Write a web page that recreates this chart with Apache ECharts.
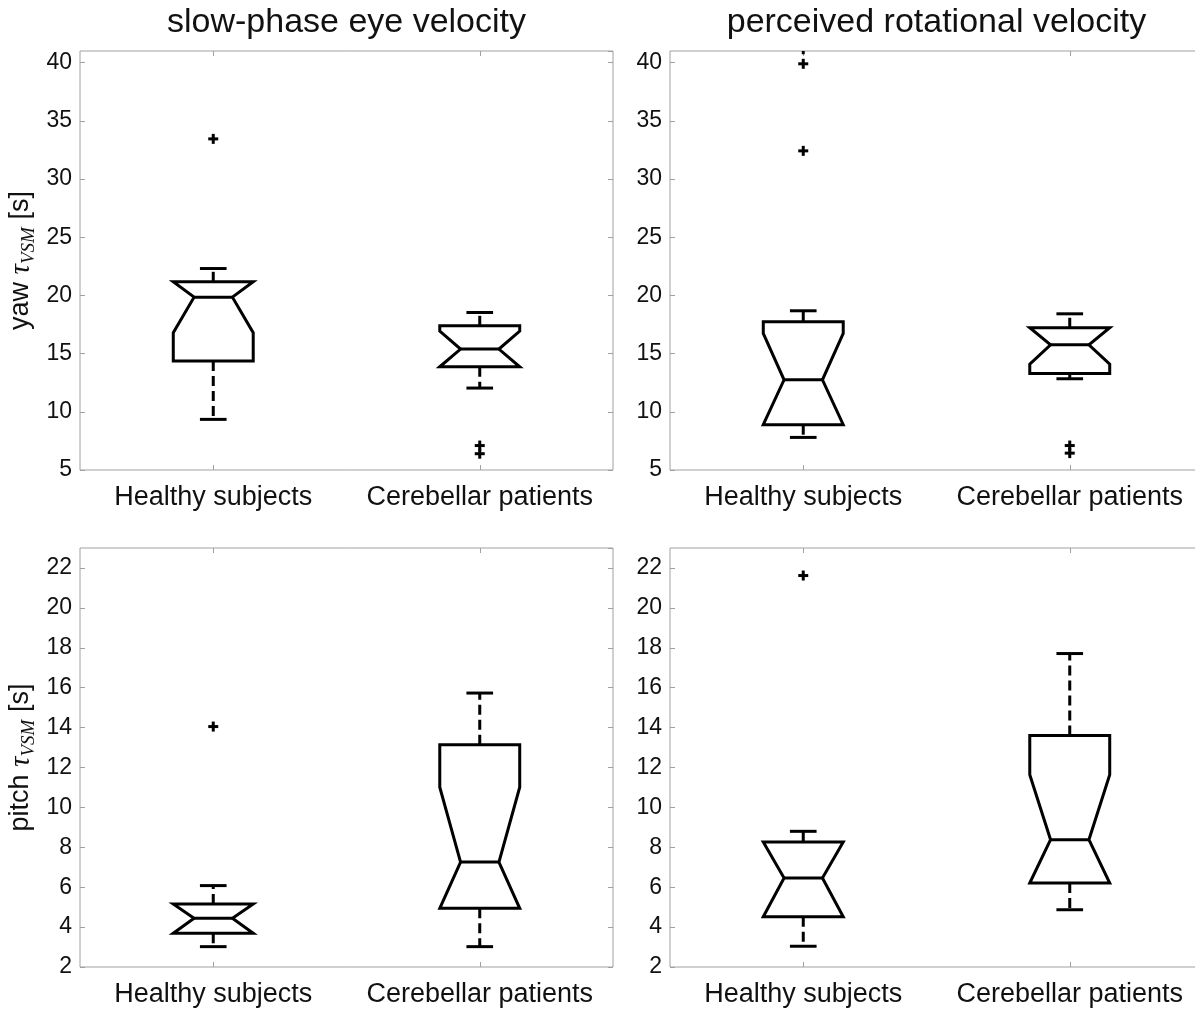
<!DOCTYPE html>
<html><head><meta charset="utf-8">
<script src="https://cdn.jsdelivr.net/npm/echarts@6/dist/echarts.min.js"></script>
<style>html,body{margin:0;padding:0;background:#fff}#c{width:1195px;height:1011px}</style>
</head><body><div id="c"></div>
<script>
// ---------- data ----------
const categories = ['Healthy subjects', 'Cerebellar patients'];
const columnTitles = ['slow-phase eye velocity', 'perceived rotational velocity'];
const rowNames = ['yaw', 'pitch'];
// box stats: [whiskerLow, q1, notchLow, median, notchHigh, q3, whiskerHigh]
const yawEyeHealthy      = [9.35, 14.36, 16.79, 19.85, 21.17, 21.17, 22.31];
const yawEyeCerebellar   = [12.04, 13.87, 13.87, 15.39, 16.93, 17.39, 18.53];
const yawPercHealthy     = [7.80, 8.89, 8.89, 12.75, 16.73, 17.73, 18.68];
const yawPercCerebellar  = [12.84, 13.30, 14.10, 15.76, 17.22, 17.22, 18.42];
const pitchEyeHealthy    = [3.02, 3.69, 3.69, 4.44, 5.16, 5.16, 6.08];
const pitchEyeCerebellar = [3.02, 4.94, 4.94, 7.26, 11.01, 13.14, 15.73];
const pitchPercHealthy   = [3.04, 4.52, 4.52, 6.46, 8.27, 8.27, 8.80];
const pitchPercCerebellar= [4.87, 6.21, 6.21, 8.38, 11.64, 13.60, 17.71];
// outliers
const yawEyeOutHealthy = [33.45];
const yawEyeOutCerebellar = [7.1, 6.4];
const yawPercOutHealthy = [41.15, 39.9, 32.42];
const yawPercOutCerebellar = [7.1, 6.45];
const pitchEyeOutHealthy = [14.05];
const pitchEyeOutCerebellar = [];
const pitchPercOutHealthy = [21.62];
const pitchPercOutCerebellar = [];
// y scales
const yawAxis = { min: 5, max: 41, interval: 5 };
const pitchAxis = { min: 2, max: 23, interval: 2 };

// ---------- build ----------
const FONT = 'Liberation Sans, Arial, Helvetica, sans-serif';
const SERIF = 'Liberation Serif, Times New Roman, serif';
const GRAY = '#a0a0a0';
const BOX_HALF = 0.15, NOTCH_HALF = 0.072, CAP_HALF = 0.05;

const panels = [
  { boxes: [yawEyeHealthy, yawEyeCerebellar], outs: [yawEyeOutHealthy, yawEyeOutCerebellar], axis: yawAxis, row: 0, col: 0 },
  { boxes: [yawPercHealthy, yawPercCerebellar], outs: [yawPercOutHealthy, yawPercOutCerebellar], axis: yawAxis, row: 0, col: 1 },
  { boxes: [pitchEyeHealthy, pitchEyeCerebellar], outs: [pitchEyeOutHealthy, pitchEyeOutCerebellar], axis: pitchAxis, row: 1, col: 0 },
  { boxes: [pitchPercHealthy, pitchPercCerebellar], outs: [pitchPercOutHealthy, pitchPercOutCerebellar], axis: pitchAxis, row: 1, col: 1 }
];
const gridLeft = [80, 670], gridTop = [51, 548], gridW = 533, gridH = 419;

function boxRender(params, api) {
  const xi = api.value(0);
  const v = [1,2,3,4,5,6,7].map(k => api.value(k));
  const [wLo, q1, nLo, med, nHi, q3, wHi] = v;
  const band = api.size([1, 0])[0];
  const hw = band * BOX_HALF, nw = band * NOTCH_HALF, cw = band * CAP_HALF;
  const cx = api.coord([xi, med])[0];
  const y = val => api.coord([xi, val])[1];
  const pts = [[cx-hw,y(q1)],[cx-hw,y(nLo)],[cx-nw,y(med)],[cx-hw,y(nHi)],[cx-hw,y(q3)],
               [cx+hw,y(q3)],[cx+hw,y(nHi)],[cx+nw,y(med)],[cx+hw,y(nLo)],[cx+hw,y(q1)]];
  const solid = { stroke: '#000', lineWidth: 3, fill: 'none' };
  const dash = { stroke: '#000', lineWidth: 3, lineDash: [10, 5] };
  return { type: 'group', children: [
    { type: 'line', shape: { x1: cx, y1: y(q3), x2: cx, y2: y(wHi) }, style: dash },
    { type: 'line', shape: { x1: cx, y1: y(q1), x2: cx, y2: y(wLo) }, style: dash },
    { type: 'line', shape: { x1: cx-cw, y1: y(wHi), x2: cx+cw, y2: y(wHi) }, style: solid },
    { type: 'line', shape: { x1: cx-cw, y1: y(wLo), x2: cx+cw, y2: y(wLo) }, style: solid },
    { type: 'polygon', shape: { points: pts }, style: { stroke: '#000', lineWidth: 3, fill: '#fff', lineJoin: 'miter' } },
    { type: 'line', shape: { x1: cx-nw, y1: y(med), x2: cx+nw, y2: y(med) }, style: solid }
  ]};
}
function outRender(params, api) {
  const p = api.coord([api.value(0), api.value(1)]);
  const s = 5;
  const st = { stroke: '#000', lineWidth: 3 };
  return { type: 'group', children: [
    { type: 'line', shape: { x1: p[0]-s, y1: p[1], x2: p[0]+s, y2: p[1] }, style: st },
    { type: 'line', shape: { x1: p[0], y1: p[1]-s, x2: p[0], y2: p[1]+s }, style: st }
  ]};
}

const grid = [], xAxis = [], yAxis = [], series = [], graphic = [];
panels.forEach((p, i) => {
  grid.push({ left: gridLeft[p.col], top: gridTop[p.row], width: gridW, height: gridH,
    outerBoundsMode: 'none', containLabel: false,
    show: true, borderColor: GRAY, borderWidth: 1, backgroundColor: 'transparent' });
  const tick = { show: true, inside: true, length: 5, alignWithLabel: true, interval: 0, lineStyle: { color: GRAY } };
  xAxis.push({ type: 'category', gridIndex: i, data: categories, position: 'bottom',
    axisLine: { show: false }, axisTick: tick,
    axisLabel: { fontSize: 27, fontFamily: FONT, color: '#111', margin: 14, interval: 0, hideOverlap: false } });
  xAxis.push({ type: 'category', gridIndex: i, data: categories, position: 'top',
    axisLine: { show: false }, axisTick: tick, axisLabel: { show: false } });
  const ytick = { show: true, inside: true, length: 5, lineStyle: { color: GRAY } };
  const yl = { type: 'value', gridIndex: i, min: p.axis.min, max: p.axis.max, interval: p.axis.interval,
    position: 'left', splitLine: { show: false }, axisLine: { show: false }, axisTick: ytick,
    axisLabel: { fontSize: 23, fontFamily: FONT, color: '#111', margin: 8, showMaxLabel: false } };
  if (p.col === 0) {
    yl.name = '{a|' + rowNames[p.row] + ' }{t|τ}{s|VSM}{a| [s]}';
    yl.nameLocation = 'middle';
    yl.nameGap = 42;
    yl.nameTextStyle = { color: '#111', fontSize: 27, fontFamily: FONT, rich: {
      a: { fontSize: 27, fontFamily: FONT, color: '#111', lineHeight: 34 },
      t: { fontSize: 29, fontFamily: SERIF, fontStyle: 'italic', color: '#111', lineHeight: 34 },
      s: { fontSize: 19, fontFamily: SERIF, fontStyle: 'italic', color: '#111', lineHeight: 20, verticalAlign: 'bottom' }
    } };
  }
  yAxis.push(yl);
  yAxis.push({ type: 'value', gridIndex: i, min: p.axis.min, max: p.axis.max, interval: p.axis.interval,
    position: 'right', splitLine: { show: false }, axisLine: { show: false }, axisTick: ytick, axisLabel: { show: false } });
  series.push({ type: 'custom', xAxisIndex: 2*i, yAxisIndex: 2*i, renderItem: boxRender, clip: true,
    data: p.boxes.map((b, k) => [k].concat(b)), silent: true, z: 3 });
  const od = [];
  p.outs.forEach((arr, k) => arr.forEach(val => od.push([k, val])));
  series.push({ type: 'custom', xAxisIndex: 2*i, yAxisIndex: 2*i, renderItem: outRender, clip: true,
    data: od, silent: true, z: 4 });
});
columnTitles.forEach((t, c) => {
  graphic.push({ type: 'text', x: gridLeft[c] + gridW / 2, y: 6,
    style: { text: t, fontSize: 34, fontFamily: FONT, fill: '#111', align: 'center', verticalAlign: 'top' } });
});

const chart = echarts.init(document.getElementById('c'), null, { renderer: 'canvas' });
chart.setOption({ backgroundColor: '#fff', animation: false, grid, xAxis, yAxis, series, graphic });
</script></body></html>
